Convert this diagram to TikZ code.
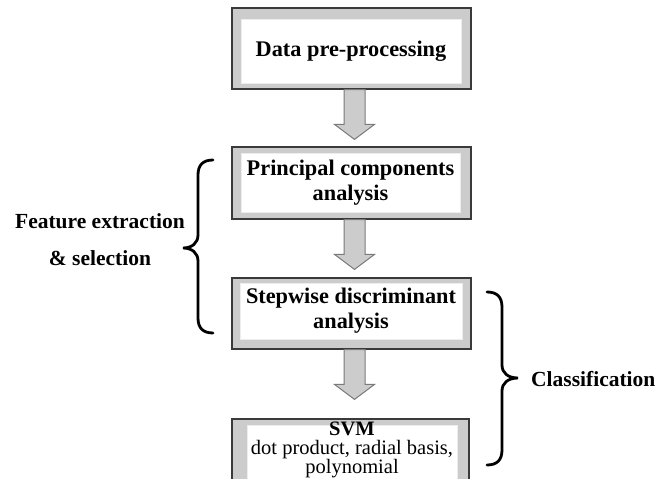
\documentclass[tikz,border=0pt]{standalone}
\usepackage{fontspec}
\setmainfont{Liberation Serif}
\usetikzlibrary{calc}
\definecolor{bandgray}{HTML}{CCCCCC}
\definecolor{edgegray}{HTML}{3A3A3A}
\definecolor{arrowedge}{HTML}{7A7A7A}
\definecolor{paneedge}{HTML}{EDEDED}
\tikzset{
  frame/.style={draw=edgegray, line width=1.2pt, fill=bandgray, inner sep=0pt},
  pane/.style={draw=paneedge, line width=0.6pt, fill=white, inner sep=0pt, align=center,
    font=\bfseries\fontsize{22.3}{25}\selectfont},
  barrow/.style={draw=arrowedge, line width=1pt, fill=bandgray, line join=miter},
  bracepath/.style={draw=black, line width=2.8pt, line cap=round},
  side/.style={font=\bfseries\fontsize{21.5}{25}\selectfont, align=center, inner sep=0pt}
}
\newcommand{\blockarrow}[3]{%
  \draw[barrow] let \p1=(#1.south), \p2=(#2.north) in
    (\x1-7.5pt,\y1) -- (\x1-7.5pt,\y2+#3pt+15pt) -- (\x1-17pt,\y2+#3pt+15pt) --
    (\x1+3pt,\y2+#3pt) -- (\x1+23pt,\y2+#3pt+15pt) -- (\x1+13.5pt,\y2+#3pt+15pt) --
    (\x1+13.5pt,\y1) -- cycle;}
\begin{document}
\begin{tikzpicture}[x=1pt,y=-1pt]
\useasboundingbox (0,0) rectangle (662,479);
\clip (0,0) rectangle (662,479);
% boxes
\node[frame, minimum width=239pt, minimum height=81pt] (f1) at (351.5,48.5) {};
\node[pane, minimum width=220pt, minimum height=64pt] (p1) at (351,51) {Data pre-processing};
\node[frame, minimum width=239pt, minimum height=72pt] (f2) at (351.5,183) {};
\node[pane, minimum width=219pt, minimum height=59pt] (p2) at (350.5,182.5) {Principal components\\analysis};
\node[frame, minimum width=239pt, minimum height=71pt] (f3) at (351.5,313.5) {};
\node[pane, minimum width=222pt, minimum height=56pt] (p3) at (351,311) {Stepwise discriminant\\analysis};
\node[frame, minimum width=237pt, minimum height=76pt] (f4) at (350.5,457) {};
\node[pane, minimum width=210pt, minimum height=65pt] (p4) at (352,457.5) {};
\node[align=center, inner sep=0pt, anchor=north, font=\fontsize{20.5}{18.5}\selectfont] (t4) at (352,422)
  {\textbf{\fontsize{20.5}{20}\selectfont SVM}\\[0pt]
   dot product, radial basis,\\polynomial};
% arrows
\blockarrow{f1}{f2}{7}
\blockarrow{f2}{f3}{8}
\blockarrow{f3}{f4}{19}
% braces
\draw[bracepath] (213,160) .. controls (203,160) and (198,165) .. (198,175) -- (198,235)
  .. controls (198,243) and (192,248) .. (183,248)
  .. controls (192,248) and (198,253) .. (198,261) -- (198,318)
  .. controls (198,328) and (203,333) .. (213,333);
\draw[bracepath] (487,292) .. controls (497,292) and (502,297) .. (502,307) -- (502,365)
  .. controls (502,373) and (508,378) .. (518,378)
  .. controls (508,378) and (502,383) .. (502,391) -- (502,450)
  .. controls (502,460) and (497,465) .. (487,465);
% side labels
\node[side] (fe) at (100,240) {Feature extraction\\[12pt]\& selection};
\node[side, anchor=west] (cl) at (531,379) {Classification};
\end{tikzpicture}
\end{document}
